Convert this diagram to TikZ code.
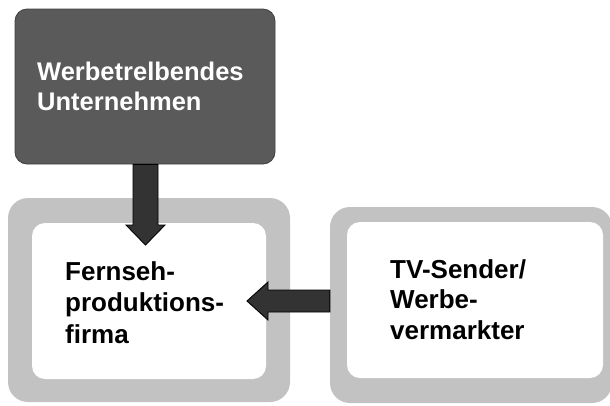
\documentclass[tikz,border=0pt]{standalone}
\usepackage{fontspec}
\setmainfont{Liberation Sans}
\usetikzlibrary{calc}
\definecolor{framegray}{HTML}{C2C2C2}
\definecolor{boxdark}{HTML}{5A5A5A}
\definecolor{arrowfill}{HTML}{333333}
\tikzset{
  darkbox/.style={rectangle, rounded corners=12pt, fill=boxdark, draw=black!75, line width=0.8pt, inner sep=0pt},
  outerframe/.style={rectangle, rounded corners=20pt, fill=framegray, inner sep=0pt},
  innerpane/.style={rectangle, rounded corners=13pt, fill=white, inner sep=0pt},
  label/.style={anchor=north west, inner sep=0pt, align=left, font=\bfseries\fontsize{26}{31.5}\selectfont},
  fatarrow/.style={fill=arrowfill, draw=black, line width=0.9pt, line join=miter},
}
\begin{document}
\begin{tikzpicture}[x=1pt, y=-1pt]
\useasboundingbox (0,0) rectangle (610,405);

% advertiser box
\node[darkbox, minimum width=260pt, minimum height=155pt] (adv) at (145,86.5) {};
\node[label, text=white, font=\bfseries\fontsize{25.5}{30}\selectfont] (advtext) at (37,62) {Werbetrelbendes\\Unternehmen};

% production company: grey frame with white pane
\node[outerframe, minimum width=282pt, minimum height=204pt] (firmout) at (149,300) {};
\node[innerpane, minimum width=234pt, minimum height=156pt] (firm) at (149,301) {};
\node[label] (firmtext) at (65,261) {Fernseh-\\produktions-\\firma};

% broadcaster / marketer: grey frame with white pane
\node[outerframe, minimum width=282pt, minimum height=196pt] (tvout) at (471,305) {};
\node[innerpane, minimum width=256pt, minimum height=156pt] (tv) at (475,300) {};
\node[label, font=\bfseries\fontsize{26}{30.5}\selectfont] (tvtext) at (390,259) {TV-Sender/\\Werbe-\\vermarkter};

% tips of the two block arrows
\coordinate (downtip) at (145.5,245);
\coordinate (lefttip) at (247,301);

% block arrow: advertiser -> production company
\draw[fatarrow]
  ($(adv.south -| downtip)+(-12.5,0)$) -- ($(downtip)+(-12.5,-20)$) -- ($(downtip)+(-19.5,-20)$)
  -- (downtip) -- ($(downtip)+(19.5,-20)$) -- ($(downtip)+(12.5,-20)$)
  -- ($(adv.south -| downtip)+(12.5,0)$) -- cycle;

% block arrow: broadcaster -> production company
\draw[fatarrow]
  ($(tvout.west |- lefttip)+(0,-11)$) -- ($(lefttip)+(21,-11)$) -- ($(lefttip)+(21,-19)$)
  -- (lefttip) -- ($(lefttip)+(21,19)$) -- ($(lefttip)+(21,11)$)
  -- ($(tvout.west |- lefttip)+(0,11)$) -- cycle;
\end{tikzpicture}
\end{document}
